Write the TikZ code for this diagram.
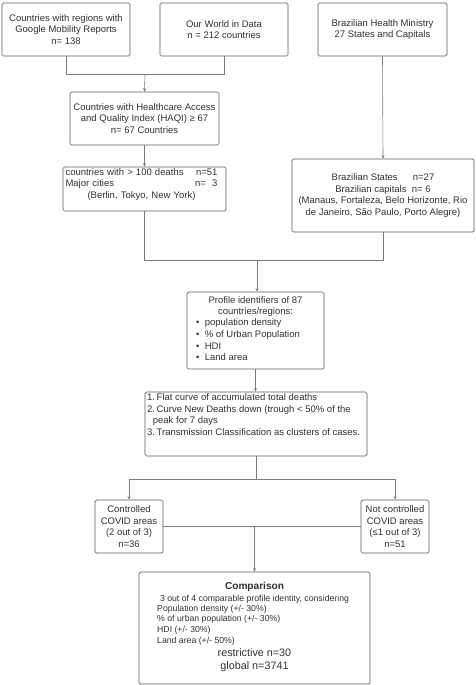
\documentclass[tikz,border=0pt]{standalone}
\usepackage{fontspec}
\setmainfont{Liberation Sans}
\usetikzlibrary{arrows.meta}
\definecolor{txt}{HTML}{303030}
\definecolor{boxc}{HTML}{5A5A5A}
\definecolor{linec}{HTML}{7A7A7A}
\newcommand{\fsmain}{\fontsize{9.5}{11.6}\selectfont}
\newcommand{\fssmall}{\fontsize{8.7}{10.7}\selectfont}
\newcommand{\fsbig}{\fontsize{10.8}{13}\selectfont}
\tikzset{
  box/.style={draw=boxc, rounded corners=1.5pt, line width=0.7pt, inner sep=0pt, text=txt, font=\fsmain, align=center},
  lbl/.style={inner sep=0pt, text=txt, font=\fsmain},
  conn/.style={draw=linec, line width=0.6pt},
  arr/.style={conn, -{Stealth[length=3.5pt,width=3pt]}}
}
\begin{document}
\begin{tikzpicture}[x=1pt,y=-1pt]
\useasboundingbox (0,0) rectangle (475,685);
% boxes
\node[box, minimum width=128, minimum height=53] (b1) at (66,29.5) {Countries with regions with\\Google Mobility Reports\\n= 138};
\node[box, minimum width=128, minimum height=53] (b2) at (224,29.5) {Our World in Data\\n = 212 countries};
\node[box, minimum width=129, minimum height=53] (b3) at (382.5,29.5) {Brazilian Health Ministry\\27 States and Capitals};
\node[box, minimum width=149, minimum height=53] (haqi) at (144.5,118.5) {Countries with Healthcare Access\\and Quality Index (HAQI) ≥ 67\\n= 67 Countries};
\node[box, minimum width=163, minimum height=44] (deaths) at (144.5,189) {};
\node[lbl, text width=152, align=left] (deathst) at (141.5,184.5) {countries with > 100 deaths\hfill n=51\\Major cities\hfill n=\ \ 3\\\hfill(Berlin, Tokyo, New York)\hfill\null};
\node[box, minimum width=182, minimum height=73] (bras) at (383,195.5) {Brazilian States\hspace{1.6em}n=27\\Brazilian capitals\ \ n= 6\\(Manaus, Fortaleza, Belo Horizonte, Rio\\de Janeiro, São Paulo, Porto Alegre)};
\node[box, minimum width=137, minimum height=77] (prof) at (255.5,330.5) {};
\node[lbl, align=center] (proft) at (255.5,306.5) {Profile identifiers of 87\\countries/regions:};
\node[lbl, align=left, anchor=west] (profl) at (196,340) {•\ \ population density\\•\ \ \% of Urban Population\\•\ \ HDI\\•\ \ Land area};
\node[box, minimum width=222, minimum height=64] (crit) at (256,424) {};
\node[lbl, align=left, anchor=west] (critt) at (147,414.5) {1.\,Flat curve of accumulated total deaths\\2.\,Curve New Deaths down (trough < 50\% of the\\\hspace*{0.6em}peak for 7 days\\3.\,Transmission Classification as clusters of cases.};
\node[box, minimum width=68, minimum height=53] (ctrl) at (129,526.5) {Controlled\\COVID areas\\(2 out of 3)\\n=36};
\node[box, minimum width=68, minimum height=53] (nctrl) at (395,526.5) {Not controlled\\COVID areas\\(≤1 out of 3)\\n=51};
\node[box, minimum width=231, minimum height=112] (comp) at (254.5,628) {};
\node[lbl, font=\fontsize{10.1}{12}\selectfont\bfseries] (compt) at (254.5,587) {Comparison};
\node[lbl, font=\fssmall] (comp1) at (254.5,599) {3 out of 4 comparable profile identity, considering};
\node[lbl, font=\fssmall, align=left, anchor=west] (compl) at (157,625) {Population density (+/- 30\%)\\\% of urban population (+/- 30\%)\\HDI (+/- 30\%)\\Land area (+/- 50\%)};
\node[lbl, font=\fsbig, align=center] (compn) at (254.5,660.5) {restrictive n=30\\global n=3741};
% connectors
\coordinate (j1) at (145,74);
\coordinate (j2) at (257,260);
\coordinate (j3) at (256,479);
\draw[conn] (b1.south) -- (b1.south |- j1) -| (b2.south);
\draw[arr] (j1) -- (haqi.north);
\draw[arr] (haqi.south) -- (deaths.north);
\draw[arr] (b3.south) -- (bras.north);
\draw[conn] (deaths.south) |- (j2);
\draw[conn] (bras.south) |- (j2);
\draw[arr] (j2) -- (j2 |- prof.north);
\draw[arr] (prof.south) -- (prof.south |- crit.north);
\draw[conn] (crit.south) -- (j3);
\draw[arr] (j3) -| (ctrl.north);
\draw[arr] (j3) -| (nctrl.north);
\draw[conn] (ctrl.east) -- (nctrl.west);
\coordinate (j4) at (comp.north |- ctrl.east);
\draw[arr] (j4) -- (comp.north);
\end{tikzpicture}
\end{document}
